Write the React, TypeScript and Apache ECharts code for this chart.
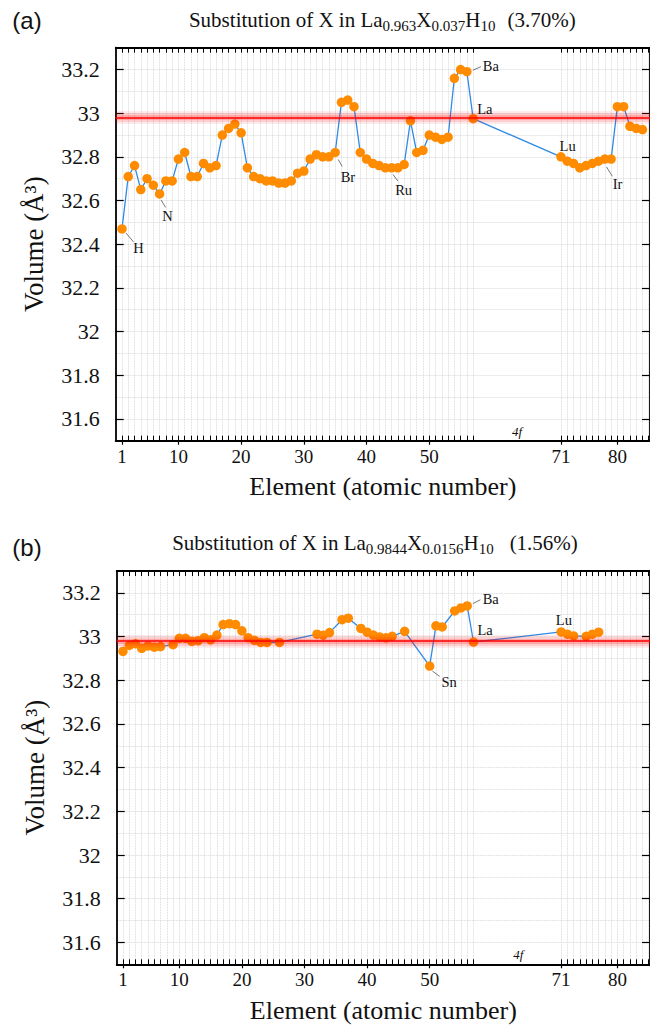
import React, { useEffect, useRef } from "react";
import * as echarts from "echarts";

// ---------------- data ----------------
// (a) La0.963X0.037H10
const Z_A = [
  1, 2, 3, 4, 5, 6, 7, 8, 9, 10, 11, 12, 13, 14, 15, 16, 17, 18, 19, 20,
  21, 22, 23, 24, 25, 26, 27, 28, 29, 30, 31, 32, 33, 34, 35, 36, 37, 38, 39, 40,
  41, 42, 43, 44, 45, 46, 47, 48, 49, 50, 51, 52, 53, 54, 55, 56, 57,
  71, 72, 73, 74, 75, 76, 77, 78, 79, 80, 81, 82, 83, 84,
];
const VOL_A = [
  32.47, 32.71, 32.76, 32.65, 32.70, 32.67, 32.63, 32.69, 32.69, 32.79,
  32.82, 32.71, 32.71, 32.77, 32.75, 32.76, 32.90, 32.93, 32.95, 32.91,
  32.75, 32.71, 32.70, 32.69, 32.69, 32.68, 32.68, 32.69, 32.725, 32.735,
  32.79, 32.81, 32.80, 32.80, 32.82, 33.05, 33.06, 33.03, 32.82, 32.79,
  32.77, 32.76, 32.75, 32.75, 32.75, 32.765, 32.965, 32.82, 32.83, 32.90,
  32.89, 32.88, 32.89, 33.16, 33.20, 33.19, 32.975,
  32.80, 32.78, 32.77, 32.75, 32.76, 32.77, 32.78, 32.79, 32.79, 33.03,
  33.03, 32.94, 32.93, 32.925,
];

// (b) La0.9844X0.0156H10
const Z_B = [
  1, 2, 3, 4, 5, 6, 7, 9, 10, 11, 12, 13, 14, 15, 16, 17, 18, 19, 20, 21,
  22, 23, 24, 26, 32, 33, 34, 36, 37, 39, 40, 41, 42, 43, 44, 46, 50, 51, 52,
  54, 55, 56, 57, 71, 72, 73, 75, 76, 77,
];
const VOL_B = [
  32.932, 32.959, 32.967, 32.946, 32.957, 32.951, 32.954, 32.963, 32.992, 32.992,
  32.978, 32.981, 32.995, 32.985, 33.007, 33.055, 33.059, 33.055, 33.026, 32.995,
  32.983, 32.973, 32.973, 32.973, 33.011, 33.006, 33.018, 33.077, 33.084, 33.037,
  33.020, 33.007, 32.998, 32.994, 33.001, 33.024, 32.865, 33.049, 33.044,
  33.117, 33.131, 33.140, 32.975, 33.021, 33.011, 33.003, 33.001, 33.011, 33.020,
];

const REF_VOLUME = 32.975; // pure LaH10

const X_TICK_LABELS = [1, 10, 20, 30, 40, 50, 71, 80];
const X_MINOR_TICKS = [
  1, 2, 3, 4, 5, 6, 7, 8, 9, 10, 11, 12, 13, 14, 15, 16, 17, 18, 19, 20,
  21, 22, 23, 24, 25, 26, 27, 28, 29, 30, 31, 32, 33, 34, 35, 36, 37, 38, 39, 40,
  41, 42, 43, 44, 45, 46, 47, 48, 49, 50, 51, 52, 53, 54, 55, 56, 57,
  71, 72, 73, 74, 75, 76, 77, 78, 79, 80, 81, 82, 83, 84, 85,
];
const Y_TICK_LABELS = [31.6, 31.8, 32, 32.2, 32.4, 32.6, 32.8, 33, 33.2];
const Y_MINOR_TICKS = [
  31.6, 31.7, 31.8, 31.9, 32, 32.1, 32.2, 32.3, 32.4, 32.5, 32.6, 32.7, 32.8,
  32.9, 33, 33.1, 33.2,
];

const X_TITLE = "Element (atomic number)";
const Y_TITLE = "Volume (Å³)";

const LABELS_A = [
  { name: "H", z: 1 },
  { name: "N", z: 7 },
  { name: "Br", z: 35 },
  { name: "Ru", z: 44 },
  { name: "Ba", z: 56 },
  { name: "La", z: 57 },
  { name: "Lu", z: 71 },
  { name: "Ir", z: 77 },
];
const LABELS_B = [
  { name: "Sn", z: 50 },
  { name: "Ba", z: 56 },
  { name: "La", z: 57 },
  { name: "Lu", z: 71 },
];
const GAP_LABEL = "4f";
const GAP_Z = 64;

// ---------------- styles ----------------
const SERIF = "Liberation Serif";
const SANS = "Liberation Sans";
const XMIN = 0;
const XMAX = 85.2;
const YMIN = 31.5;
const YMAX = 33.3;

const OFFSETS_A: Record<string, { line?: number[]; text: number[] }> = {
  H: { line: [4, 4, 11.5, 13], text: [16.5, 19] },
  N: { line: [1.5, 6, 6, 13.5], text: [8, 22] },
  Br: { line: [3, 7, 7, 14], text: [12.7, 24] },
  Ru: { line: [1.3, 6.7, 6.3, 13.3], text: [12, 22] },
  Ba: { line: [6, -1.5, 14, -5], text: [24, -5.5] },
  La: { text: [11.7, -9.5] },
  Lu: { text: [6.7, -10.7] },
  Ir: { line: [8, 5.7, 13.7, 15], text: [19, 22.3] },
  "4f": { text: [0, -9] },
};
const OFFSETS_B: Record<string, { line?: number[]; text: number[] }> = {
  Sn: { line: [2.7, 5, 10, 10.3], text: [19.4, 16] },
  Ba: { line: [5.7, -2.4, 13.2, -6.2], text: [23.5, -6.9] },
  La: { text: [11.6, -12] },
  Lu: { text: [2.7, -11.7] },
  "4f": { text: [1, -10] },
};

const axisLineStyle = { color: "#000", width: 1.8 };
const gridLineStyle = { color: "#cfcfcf", type: "dotted" as const, width: 0.8 };

function serifRich(size: number) {
  return { t: { fontFamily: SERIF, fontSize: size, color: "#111" } };
}

function xAxesFor(gridIndex: number) {
  return [
    {
      gridIndex,
      type: "value",
      min: XMIN,
      max: XMAX,
      position: "bottom",
      axisLine: { show: true, onZero: false, lineStyle: axisLineStyle },
      axisTick: {
        show: true,
        inside: false,
        length: 4,
        customValues: X_TICK_LABELS,
        lineStyle: { color: "#000", width: 1.2 },
      },
      axisLabel: {
        show: true,
        customValues: X_TICK_LABELS,
        margin: 6,
        fontFamily: SERIF,
        fontSize: 19,
        color: "#111",
        formatter: (v: number) => `{t|${v}}`,
        rich: serifRich(19),
      },
      splitLine: { show: false },
      name: `{t|${X_TITLE}}`,
      nameLocation: "middle",
      nameGap: 33,
      nameTextStyle: { fontFamily: SERIF, fontSize: 26, color: "#111", rich: serifRich(26) },
    },
    {
      gridIndex,
      type: "value",
      min: XMIN,
      max: XMAX,
      position: "bottom",
      axisLine: { show: false },
      axisTick: {
        show: true,
        inside: true,
        length: 5,
        customValues: X_MINOR_TICKS,
        lineStyle: { color: "#000", width: 1 },
      },
      axisLabel: { show: false },
      splitLine: { show: true, lineStyle: gridLineStyle },
    },
    {
      gridIndex,
      type: "value",
      min: XMIN,
      max: XMAX,
      position: "top",
      axisLine: { show: true, onZero: false, lineStyle: axisLineStyle },
      axisTick: {
        show: true,
        inside: true,
        length: 5,
        customValues: X_MINOR_TICKS,
        lineStyle: { color: "#000", width: 1 },
      },
      axisLabel: { show: false },
      splitLine: { show: false },
    },
  ];
}

function yAxesFor(gridIndex: number) {
  return [
    {
      gridIndex,
      type: "value",
      min: YMIN,
      max: YMAX,
      position: "left",
      axisLine: { show: true, onZero: false, lineStyle: axisLineStyle },
      axisTick: {
        show: true,
        inside: true,
        length: 8,
        customValues: Y_TICK_LABELS,
        lineStyle: { color: "#000", width: 1.2 },
      },
      axisLabel: {
        show: true,
        customValues: Y_TICK_LABELS,
        margin: 16,
        fontFamily: SERIF,
        fontSize: 22,
        color: "#111",
        formatter: (v: number) => `{t|${v}}`,
        rich: serifRich(22),
      },
      splitLine: { show: false },
      name: `{t|${Y_TITLE}}`,
      nameLocation: "middle",
      nameGap: 68,
      nameRotate: 90,
      nameTextStyle: { fontFamily: SERIF, fontSize: 27, color: "#111", rich: serifRich(27) },
    },
    {
      gridIndex,
      type: "value",
      min: YMIN,
      max: YMAX,
      position: "left",
      axisLine: { show: false },
      axisTick: { show: false, customValues: Y_MINOR_TICKS },
      axisLabel: { show: false },
      splitLine: { show: true, lineStyle: gridLineStyle },
    },
    {
      gridIndex,
      type: "value",
      min: YMIN,
      max: YMAX,
      position: "right",
      axisLine: { show: true, onZero: false, lineStyle: axisLineStyle },
      axisTick: {
        show: true,
        inside: true,
        length: 8,
        customValues: Y_TICK_LABELS,
        lineStyle: { color: "#000", width: 1.2 },
      },
      axisLabel: { show: false },
      splitLine: { show: false },
    },
  ];
}

function seriesFor(
  axisBase: number,
  zs: number[],
  vols: number[],
  labels: { name: string; z: number }[],
  offsets: Record<string, { line?: number[]; text: number[] }>
) {
  const annots = [
    ...labels.map((l) => ({ name: l.name, z: l.z, v: vols[zs.indexOf(l.z)], italic: false })),
    { name: GAP_LABEL, z: GAP_Z, v: YMIN, italic: true },
  ];
  return [
    {
      type: "line",
      xAxisIndex: axisBase,
      yAxisIndex: axisBase,
      data: zs.map((z, i) => [z, vols[i]]),
      symbol: "circle",
      symbolSize: 9.5,
      showSymbol: true,
      itemStyle: { color: "#ff8c00" },
      lineStyle: { color: "#2f8ae6", width: 1.3 },
      emphasis: { disabled: true },
      z: 3,
    },
    {
      type: "line",
      xAxisIndex: axisBase,
      yAxisIndex: axisBase,
      data: [],
      z: 4,
      markLine: {
        silent: true,
        symbol: ["none", "none"],
        label: { show: false },
        emphasis: { disabled: true },
        data: [
          { yAxis: REF_VOLUME, lineStyle: { color: "rgba(255,0,0,0.08)", width: 13, type: "solid" } },
          { yAxis: REF_VOLUME, lineStyle: { color: "rgba(255,0,0,0.12)", width: 9, type: "solid" } },
          { yAxis: REF_VOLUME, lineStyle: { color: "rgba(255,0,0,0.18)", width: 5, type: "solid" } },
          { yAxis: REF_VOLUME, lineStyle: { color: "#ff0000", width: 1.6, type: "solid" } },
        ],
      },
    },
    {
      type: "custom",
      xAxisIndex: axisBase,
      yAxisIndex: axisBase,
      data: annots.map((a) => [a.z, a.v]),
      z: 10,
      silent: true,
      clip: false,
      renderItem: (params: any, api: any) => {
        const a = annots[params.dataIndex];
        const p = api.coord([api.value(0), api.value(1)]);
        const o = offsets[a.name];
        const children: any[] = [];
        if (o.line) {
          children.push({
            type: "line",
            shape: {
              x1: p[0] + o.line[0],
              y1: p[1] + o.line[1],
              x2: p[0] + o.line[2],
              y2: p[1] + o.line[3],
            },
            style: { stroke: "#555", lineWidth: 0.8 },
          });
        }
        children.push({
          type: "text",
          x: p[0] + o.text[0],
          y: p[1] + o.text[1],
          style: {
            text: a.name,
            fill: "#111",
            fontFamily: SERIF,
            fontSize: a.italic ? 13 : 14.5,
            fontStyle: a.italic ? "italic" : "normal",
            align: "center",
            verticalAlign: "middle",
          },
        });
        return { type: "group", children };
      },
    },
  ];
}

function titleRich(gap: number) {
  return {
    n: { fontFamily: SERIF, fontSize: 21, fill: "#111", lineHeight: 24 },
    s: { fontFamily: SERIF, fontSize: 15, fill: "#111", lineHeight: 15, padding: [12, 0, 0, 0] },
    g: { fontFamily: SERIF, fontSize: 21, fill: "#111", lineHeight: 24, padding: [0, 0, 0, gap] },
  };
}

export default function App() {
  const ref = useRef<HTMLDivElement>(null);

  useEffect(() => {
    if (!ref.current) return;
    const chart = echarts.init(ref.current, undefined, { renderer: "svg" });
    const option: any = {
      animation: false,
      backgroundColor: "#fff",
      textStyle: { fontFamily: SERIF },
      grid: [
        { left: 115.7, top: 47.7, width: 536, height: 393 },
        { left: 116.7, top: 571, width: 536, height: 393.3 },
      ],
      xAxis: [...xAxesFor(0), ...xAxesFor(1)],
      yAxis: [...yAxesFor(0), ...yAxesFor(1)],
      series: [
        ...seriesFor(0, Z_A, VOL_A, LABELS_A, OFFSETS_A),
        ...seriesFor(3, Z_B, VOL_B, LABELS_B, OFFSETS_B),
      ],
      graphic: [
        {
          type: "text",
          x: 27,
          y: 20,
          style: { text: "(a)", fontFamily: SANS, fontSize: 24, fill: "#111", align: "center", verticalAlign: "middle" },
        },
        {
          type: "text",
          x: 27,
          y: 547.5,
          style: { text: "(b)", fontFamily: SANS, fontSize: 24, fill: "#111", align: "center", verticalAlign: "middle" },
        },
        {
          type: "text",
          x: 382.3,
          y: 19.5,
          style: {
            text: "{n|Substitution of X in La}{s|0.963}{n|X}{s|0.037}{n|H}{s|10}{g|(3.70%)}",
            rich: titleRich(12),
            align: "center",
            verticalAlign: "middle",
          },
        },
        {
          type: "text",
          x: 375,
          y: 543,
          style: {
            text: "{n|Substitution of X in La}{s|0.9844}{n|X}{s|0.0156}{n|H}{s|10}{g|(1.56%)}",
            rich: titleRich(16),
            align: "center",
            verticalAlign: "middle",
          },
        },
      ],
    };
    chart.setOption(option);
    return () => chart.dispose();
  }, []);

  return (
    <div
      ref={ref}
      style={{ position: "absolute", left: 0, top: 0, width: 650, height: 1025, background: "#fff" }}
    />
  );
}
